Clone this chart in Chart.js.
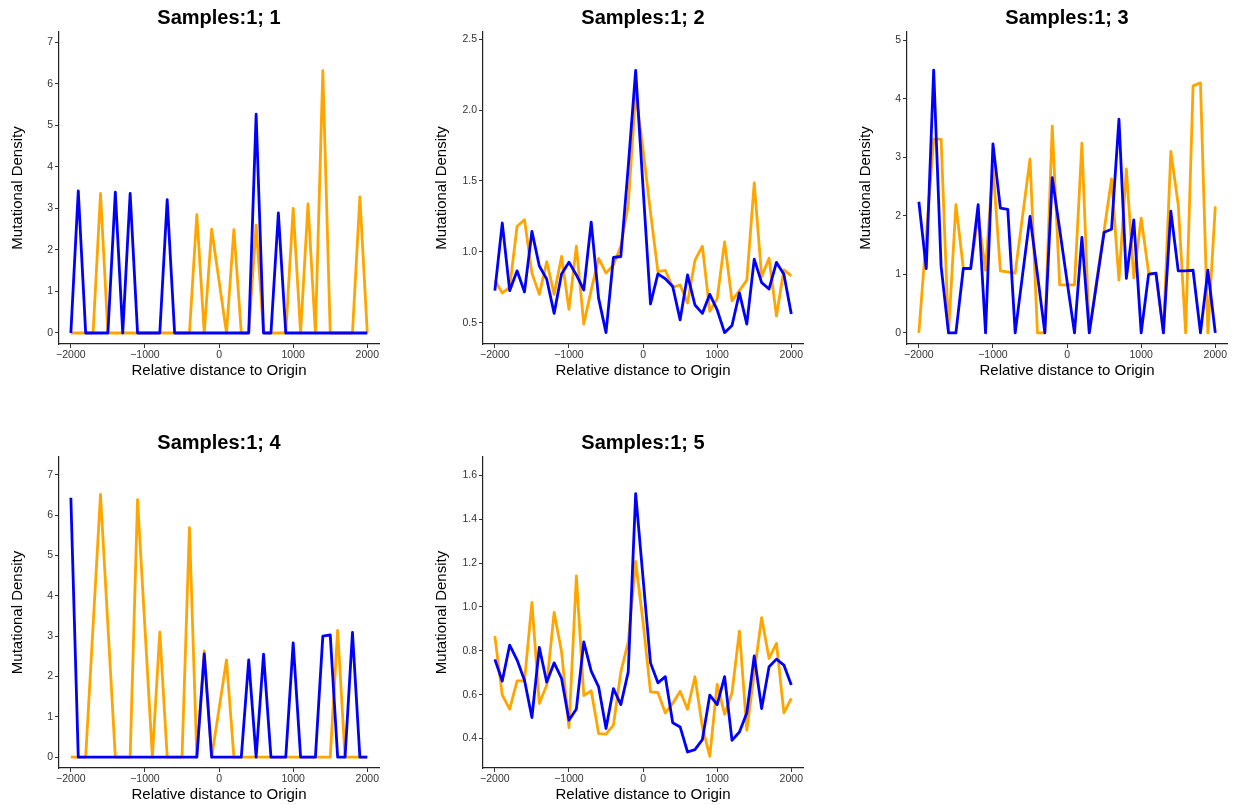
<!DOCTYPE html>
<html><head><meta charset="utf-8">
<script src="https://cdn.jsdelivr.net/npm/chart.js@4.4.1/dist/chart.umd.min.js"></script>
<style>
html,body{margin:0;padding:0;background:#fff;overflow:hidden;width:1233px;height:805px;}
.panel{position:absolute;}
canvas{display:block;}
</style></head><body>
<div class="panel" id="p0"><canvas id="c0"></canvas></div>
<div class="panel" id="p1"><canvas id="c1"></canvas></div>
<div class="panel" id="p2"><canvas id="c2"></canvas></div>
<div class="panel" id="p3"><canvas id="c3"></canvas></div>
<div class="panel" id="p4"><canvas id="c4"></canvas></div>
<script>
// ---- data ----
const positions = [-2000,-1900,-1800,-1700,-1600,-1500,-1400,-1300,-1200,-1100,-1000,-900,-800,-700,-600,-500,-400,-300,-200,-100,0,100,200,300,400,500,600,700,800,900,1000,1100,1200,1300,1400,1500,1600,1700,1800,1900,2000];

const titles = ['Samples:1; 1','Samples:1; 2','Samples:1; 3','Samples:1; 4','Samples:1; 5'];

const s1Blue   = [0,3.42,0,0,0,0,3.39,0,3.36,0,0,0,0,3.21,0,0,0,0,0,0,0,0,0,0,0,5.27,0,0,2.89,0,0,0,0,0,0,0,0,0,0,0,0];
const s1Orange = [0,0,0,0,3.36,0,0,0,0,0,0,0,0,0,0,0,0,2.85,0,2.5,1.25,0,2.49,0,0,2.6,0,0,0,0,3.0,0,3.11,0,6.32,0,0,0,0,3.28,0];

const s2Blue   = [0.726,1.203,0.726,0.866,0.717,1.144,0.90,0.807,0.566,0.844,0.927,0.837,0.731,1.21,0.672,0.43,0.96,0.967,1.6,2.28,1.45,0.632,0.844,0.81,0.755,0.52,0.837,0.625,0.566,0.70,0.59,0.43,0.48,0.71,0.49,0.948,0.783,0.738,0.925,0.842,0.561];
const s2Orange = [0.80,0.71,0.75,1.18,1.226,0.85,0.70,0.93,0.70,0.967,0.594,1.04,0.49,0.73,0.953,0.85,0.908,1.04,1.33,2.12,1.72,1.28,0.86,0.87,0.75,0.766,0.64,0.94,1.04,0.58,0.67,1.07,0.655,0.726,0.80,1.486,0.825,0.955,0.547,0.873,0.83];

const s3Blue   = [2.24,1.10,4.49,1.14,0,0,1.10,1.10,2.19,0,3.23,2.13,2.11,0,1.0,1.99,1.0,0,2.65,1.77,0.88,0,1.63,0,0.86,1.72,1.77,3.65,0.93,1.93,0,1.0,1.02,0,2.08,1.06,1.06,1.07,0,1.07,0];
const s3Orange = [0,1.65,3.31,3.31,0,2.19,1.1,1.1,2.0,1.07,2.85,1.06,1.04,1.02,2.0,2.97,0,0,3.53,0.82,0.82,0.82,3.24,0,0.9,1.75,2.63,0.9,2.8,0.94,1.96,1.03,1.0,0,3.1,2.19,0,4.22,4.27,0,2.16];

const s4Blue   = [6.43,0,0,0,0,0,0,0,0,0,0,0,0,0,0,0,0,0,2.56,0,0,0,0,0,2.41,0,2.55,0,0,0,2.83,0,0,0,3.0,3.03,0,0,3.09,0,0];
const s4Orange = [0,0,0,3.26,6.51,3.25,0,0,0,6.38,3.19,0,3.1,0,0,0,5.69,0,2.63,0,1.2,2.41,0,0,0,0,0,0,0,0,0,0,0,0,0,0,3.14,0,0,0,0];

const s5Blue   = [0.761,0.662,0.826,0.758,0.666,0.496,0.815,0.657,0.745,0.674,0.484,0.535,0.841,0.707,0.636,0.446,0.628,0.555,0.704,1.516,1.13,0.745,0.654,0.682,0.472,0.453,0.339,0.35,0.395,0.598,0.555,0.682,0.392,0.43,0.517,0.777,0.537,0.727,0.762,0.735,0.644];
const s5Orange = [0.867,0.598,0.534,0.663,0.663,1.021,0.56,0.644,0.975,0.796,0.45,1.141,0.596,0.618,0.423,0.42,0.461,0.704,0.841,1.207,0.93,0.613,0.61,0.517,0.56,0.616,0.534,0.682,0.453,0.319,0.647,0.511,0.609,0.89,0.438,0.7,0.951,0.765,0.834,0.517,0.583];

const xTicks = [-2000,-1000,0,1000,2000];
const yTicks1 = [0,1,2,3,4,5,6,7];
const yTicks2 = [0.5,1.0,1.5,2.0,2.5];
const yTicks3 = [0,1,2,3,4,5];
const yTicks4 = [0,1,2,3,4,5,6,7];
const yTicks5 = [0.4,0.6,0.8,1.0,1.2,1.4,1.6];

const xLabel = 'Relative distance to Origin';
const yLabel = 'Mutational Density';

// ---- layout (pixels) ----
const panels = [
  {blue:s1Blue, orange:s1Orange, ticks:yTicks1, dec:0, yMin:-0.265, yMax:7.25, left:0,   top:0,   h:380, xPad:0},
  {blue:s2Blue, orange:s2Orange, ticks:yTicks2, dec:1, yMin:0.35,   yMax:2.55, left:424, top:0,   h:380, xPad:0},
  {blue:s3Blue, orange:s3Orange, ticks:yTicks3, dec:0, yMin:-0.19,  yMax:5.14, left:848, top:0,   h:380, xPad:0},
  {blue:s4Blue, orange:s4Orange, ticks:yTicks4, dec:0, yMin:-0.27,  yMax:7.44, left:0,   top:425, h:379, xPad:0},
  {blue:s5Blue, orange:s5Orange, ticks:yTicks5, dec:1, yMin:0.266,  yMax:1.683,left:424, top:425, h:379, xPad:0}
];
const W = 384, Y_W = 59, X_H = 36, PAD_TOP = 32, PAD_RIGHT = 5;
const FONT = "'Liberation Sans', Arial, sans-serif";

const titlePlugin = {
  id: 'panelTitle',
  afterDraw(chart, args, opts) {
    const {ctx, chartArea} = chart;
    ctx.save();
    ctx.font = 'bold 20px ' + FONT;
    ctx.fillStyle = '#000';
    ctx.textAlign = 'center';
    ctx.textBaseline = 'middle';
    ctx.fillText(opts.text, (chartArea.left + chartArea.right) / 2, chartArea.top - 14);
    ctx.restore();
  }
};

function fmtX(v) { return v < 0 ? '\u2212' + Math.abs(v) : String(v); }

panels.forEach((p, i) => {
  const div = document.getElementById('p' + i);
  div.style.left = p.left + 'px';
  div.style.top = p.top + 'px';
  const cv = document.getElementById('c' + i);
  cv.width = W; cv.height = p.h;
  cv.style.width = W + 'px'; cv.style.height = p.h + 'px';
  new Chart(cv, {
    type: 'line',
    data: {
      datasets: [
        {data: positions.map((x, k) => ({x, y: p.blue[k]})), borderColor: '#0000FF', borderWidth: 2.8,
         pointRadius: 0, tension: 0, borderJoinStyle: 'round', fill: false},
        {data: positions.map((x, k) => ({x, y: p.orange[k]})), borderColor: '#FFA500', borderWidth: 2.8,
         pointRadius: 0, tension: 0, borderJoinStyle: 'round', fill: false}
      ]
    },
    options: {
      responsive: false, animation: false, devicePixelRatio: 1,
      layout: {padding: {top: PAD_TOP, right: PAD_RIGHT, left: 0, bottom: 0}},
      plugins: {legend: {display: false}, tooltip: {enabled: false}, panelTitle: {text: titles[i]}},
      scales: {
        x: {
          type: 'linear', min: -2160, max: 2158,
          afterFit(s) { s.height = X_H; },
          afterBuildTicks(s) { s.ticks = xTicks.map(v => ({value: v})); },
          grid: {display: true, drawOnChartArea: false, drawTicks: true, tickLength: 4, color: '#333', lineWidth: 1},
          border: {display: true, color: '#222', width: 1.2},
          ticks: {autoSkip: false, maxRotation: 0, padding: 1, color: '#333',
                  font: {family: FONT, size: 10.5}, callback: v => fmtX(v)},
          title: {display: true, text: xLabel, color: '#000', font: {family: FONT, size: 15, lineHeight: 1.2},
                  padding: {top: 0, bottom: p.xPad}}
        },
        y: {
          type: 'linear', min: p.yMin, max: p.yMax,
          afterFit(s) { s.width = Y_W; },
          afterBuildTicks(s) { s.ticks = p.ticks.map(v => ({value: v})); },
          grid: {display: true, drawOnChartArea: false, drawTicks: true, tickLength: 4, color: '#333', lineWidth: 1},
          border: {display: true, color: '#222', width: 1.2},
          ticks: {autoSkip: false, padding: 2, color: '#333',
                  font: {family: FONT, size: 10.5}, callback: v => Number(v).toFixed(p.dec)},
          title: {display: true, text: yLabel, color: '#000', font: {family: FONT, size: 15, lineHeight: 1.2},
                  padding: {top: 9, bottom: 0}}
        }
      }
    },
    plugins: [titlePlugin]
  });
});
</script>
</body></html>
